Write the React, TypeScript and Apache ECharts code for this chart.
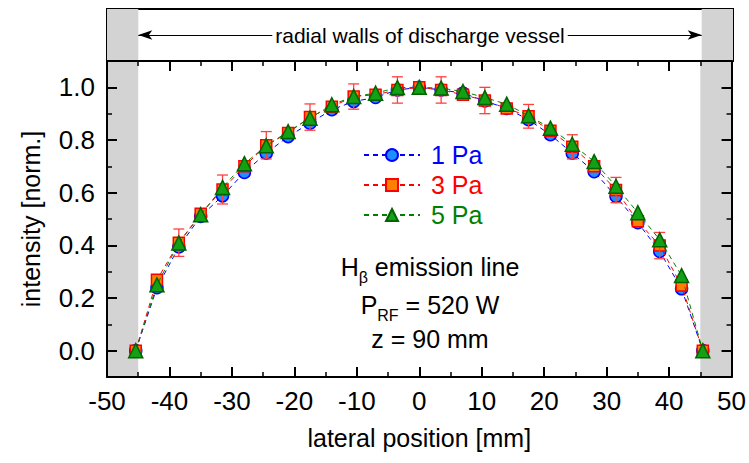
import React, { useEffect, useRef } from 'react';
import * as echarts from 'echarts';

const FONT = 'Liberation Sans, Arial, Helvetica, sans-serif';

// lateral positions [mm]
const positions = [-45.4, -42, -38.5, -35, -31.5, -28, -24.5, -21, -17.5, -14, -10.5, -7, -3.5, 0, 3.5, 7, 10.5, 14, 17.5, 21, 24.5, 28, 31.5, 35, 38.5, 42, 45.4];

const pa1 = [0, 0.239, 0.394, 0.51, 0.588, 0.677, 0.75, 0.813, 0.864, 0.915, 0.946, 0.962, 0.99, 1.0, 0.99, 0.978, 0.948, 0.92, 0.877, 0.82, 0.75, 0.68, 0.586, 0.486, 0.377, 0.235, 0];
const pa3 = [0, 0.269, 0.41, 0.52, 0.612, 0.7, 0.78, 0.827, 0.887, 0.926, 0.965, 0.972, 0.99, 1.0, 0.99, 0.972, 0.95, 0.92, 0.89, 0.835, 0.774, 0.7, 0.61, 0.491, 0.399, 0.247, 0];
const pa5 = [0, 0.25, 0.409, 0.516, 0.62, 0.71, 0.778, 0.832, 0.883, 0.934, 0.965, 0.978, 0.999, 1.0, 0.997, 0.984, 0.961, 0.936, 0.892, 0.845, 0.784, 0.718, 0.624, 0.524, 0.421, 0.285, 0];

// error bars of the 3 Pa series
const errPositions = [-38.5, -31.5, -24.5, -17.5, -10.5, -3.5, 3.5, 10.5, 17.5, 24.5, 31.5, 38.5];
const errHalf = [0.052, 0.055, 0.052, 0.05, 0.048, 0.05, 0.05, 0.05, 0.045, 0.046, 0.048, 0.05];

const yMajor = [0, 0.2, 0.4, 0.6, 0.8, 1.0];
const yMinor = [0.1, 0.3, 0.5, 0.7, 0.9];

const seriesNames = ['1 Pa', '3 Pa', '5 Pa'];
const lineColors = ['#0000ff', '#ff0000', '#008000'];

function zip(xs: number[], ys: number[]) {
  return xs.map((x, i) => [x, ys[i]]);
}

export default function App() {
  const ref = useRef<HTMLDivElement>(null);
  useEffect(() => {
    const chart = echarts.init(ref.current!, null, { renderer: 'svg' });
    const errData = errPositions.map((x, i) => {
      const idx = positions.indexOf(x);
      return [x, pa3[idx], errHalf[i]];
    });
    const axisLine = { show: true, onZero: false, lineStyle: { color: '#000', width: 2 } };
    const noLine = { show: false, onZero: false };
    const majorTick = { show: true, inside: true, length: 10, lineStyle: { color: '#000', width: 2 } };
    const minorTickAxis = { show: true, inside: true, length: 5, lineStyle: { color: '#000', width: 1.5 } };
    const dash = [5, 4];
    const option: any = {
      animation: false,
      backgroundColor: '#fff',
      textStyle: { fontFamily: FONT },
      grid: [
        { left: 107, right: 16, top: 61, height: 316 },
        { left: 107, right: 16, top: 9, height: 52, show: true, borderColor: '#000', borderWidth: 2, backgroundColor: 'transparent' },
      ],
      xAxis: [
        {
          gridIndex: 0, type: 'value', min: -50, max: 50, interval: 10, z: 10,
          axisLine, axisTick: majorTick,
          minorTick: { show: true, splitNumber: 2, length: 5, lineStyle: { color: '#000', width: 1.5 } },
          splitLine: { show: false }, minorSplitLine: { show: false },
          axisLabel: { fontSize: 26, color: '#000', margin: 11, fontFamily: FONT },
          name: 'lateral position [mm]', nameLocation: 'middle', nameGap: 48,
          nameTextStyle: { fontSize: 25, color: '#000', fontFamily: FONT },
        },
        {
          gridIndex: 0, type: 'value', position: 'top', min: -50, max: 50, interval: 10, z: 10,
          axisLine, axisTick: majorTick,
          minorTick: { show: true, splitNumber: 2, length: 5, lineStyle: { color: '#000', width: 1.5 } },
          splitLine: { show: false }, axisLabel: { show: false },
        },
        {
          gridIndex: 1, type: 'value', min: -50, max: 50, show: false,
        },
      ],
      yAxis: [
        {
          gridIndex: 0, type: 'value', position: 'left', min: -0.1, max: 1.1, z: 10,
          axisLine,
          axisTick: { ...majorTick, customValues: yMajor },
          splitLine: { show: false },
          axisLabel: { customValues: yMajor, fontSize: 26, color: '#000', margin: 12, fontFamily: FONT, formatter: (v: number) => v.toFixed(1) },
          name: 'intensity [norm.]', nameLocation: 'middle', nameGap: 64,
          nameTextStyle: { fontSize: 25, color: '#000', fontFamily: FONT },
        },
        {
          gridIndex: 0, type: 'value', position: 'left', min: -0.1, max: 1.1, z: 10,
          axisLine: noLine,
          axisTick: { ...minorTickAxis, customValues: yMinor },
          splitLine: { show: false }, axisLabel: { show: false },
        },
        {
          gridIndex: 0, type: 'value', position: 'right', min: -0.1, max: 1.1, z: 10,
          axisLine,
          axisTick: { ...majorTick, customValues: yMajor },
          splitLine: { show: false }, axisLabel: { show: false },
        },
        {
          gridIndex: 0, type: 'value', position: 'right', min: -0.1, max: 1.1, z: 10,
          axisLine: noLine,
          axisTick: { ...minorTickAxis, customValues: yMinor },
          splitLine: { show: false }, axisLabel: { show: false },
        },
        {
          gridIndex: 1, type: 'value', min: 0, max: 1, show: false,
        },
      ],
      legend: {
        orient: 'vertical', left: 363, top: 140, padding: 0, itemGap: 0,
        itemWidth: 56, itemHeight: 15,
        textStyle: { fontSize: 25, lineHeight: 30, fontFamily: FONT, padding: [0, 0, 0, 6] },
        data: seriesNames.map((n, i) => ({ name: n, textStyle: { color: lineColors[i] } })),
      },
      series: [
        {
          name: 'bands', type: 'line', xAxisIndex: 0, yAxisIndex: 0, data: [], silent: true,
          markArea: {
            silent: true, itemStyle: { color: '#d3d3d3' },
            data: [[{ xAxis: -50 }, { xAxis: -45 }], [{ xAxis: 45 }, { xAxis: 50 }]],
          },
        },
        {
          name: 'top', type: 'line', xAxisIndex: 2, yAxisIndex: 4, data: [], silent: true,
          markArea: {
            silent: true, itemStyle: { color: '#d3d3d3' },
            data: [[{ xAxis: -50 }, { xAxis: -45 }], [{ xAxis: 45 }, { xAxis: 50 }]],
          },
          markLine: {
            silent: true, symbol: ['arrow', 'arrow'], symbolSize: [7, 14],
            lineStyle: { color: '#000', width: 1.2, type: 'solid' },
            label: { show: false },
            data: [[{ coord: [-45, 0.5] }, { coord: [45, 0.5] }]],
          },
        },
        {
          name: '1 Pa', type: 'line', xAxisIndex: 0, yAxisIndex: 0, data: zip(positions, pa1),
          symbol: 'circle', symbolSize: 12,
          lineStyle: { color: '#0000ff', width: 1, type: dash },
          itemStyle: { color: '#1e8fff', borderColor: '#0000ff', borderWidth: 1.5 },
          z: 3,
        },
        {
          name: '3 Pa', type: 'line', xAxisIndex: 0, yAxisIndex: 0, data: zip(positions, pa3),
          symbol: 'rect', symbolSize: 11,
          lineStyle: { color: '#ff0000', width: 1, type: dash },
          itemStyle: { color: '#ff8000', borderColor: '#ff0000', borderWidth: 1.5 },
          z: 4,
        },
        {
          name: 'err', type: 'custom', xAxisIndex: 0, yAxisIndex: 0, data: errData,
          encode: { x: 0, y: 1 }, silent: true, z: 5,
          renderItem: (_p: any, api: any) => {
            const x = api.value(0), c = api.value(1), e = api.value(2);
            const t = api.coord([x, c + e]);
            const b = api.coord([x, c - e]);
            const hw = 5.5;
            const style = { stroke: '#ff4040', lineWidth: 1.3 };
            return {
              type: 'group',
              children: [
                { type: 'line', shape: { x1: t[0], y1: t[1], x2: b[0], y2: b[1] }, style },
                { type: 'line', shape: { x1: t[0] - hw, y1: t[1], x2: t[0] + hw, y2: t[1] }, style },
                { type: 'line', shape: { x1: b[0] - hw, y1: b[1], x2: b[0] + hw, y2: b[1] }, style },
              ],
            };
          },
        },
        {
          name: '5 Pa', type: 'line', xAxisIndex: 0, yAxisIndex: 0, data: zip(positions, pa5),
          symbol: 'triangle', symbolSize: 14,
          lineStyle: { color: '#008000', width: 1, type: dash },
          itemStyle: { color: '#14a014', borderColor: '#006400', borderWidth: 1.5 },
          z: 6,
        },
      ],
      graphic: [
        {
          type: 'text', x: 420, y: 35, z: 100,
          style: {
            text: 'radial walls of discharge vessel', fontSize: 21, fontFamily: FONT, fill: '#000',
            align: 'center', verticalAlign: 'middle', backgroundColor: '#fff', padding: [0, 3],
          },
        },
        {
          type: 'text', x: 430, y: 267, z: 100,
          style: {
            text: '{a|H}{b|β}{a| emission line}', align: 'center', verticalAlign: 'middle',
            rich: {
              a: { fontSize: 25, fontFamily: FONT, fill: '#000' },
              b: { fontSize: 16, fontFamily: FONT, fill: '#000', padding: [20, 0, 0, 0] },
            },
          },
        },
        {
          type: 'text', x: 430, y: 305, z: 100,
          style: {
            text: '{a|P}{b|RF}{a| = 520 W}', align: 'center', verticalAlign: 'middle',
            rich: {
              a: { fontSize: 25, fontFamily: FONT, fill: '#000' },
              b: { fontSize: 16, fontFamily: FONT, fill: '#000', padding: [20, 0, 0, 0] },
            },
          },
        },
        {
          type: 'text', x: 430, y: 339, z: 100,
          style: {
            text: 'z = 90 mm', fontSize: 25, fontFamily: FONT, fill: '#000',
            align: 'center', verticalAlign: 'middle',
          },
        },
      ],
    };
    chart.setOption(option);
    return () => chart.dispose();
  }, []);
  return <div ref={ref} style={{ position: 'fixed', left: 0, top: 0, width: 749, height: 463 }} />;
}
